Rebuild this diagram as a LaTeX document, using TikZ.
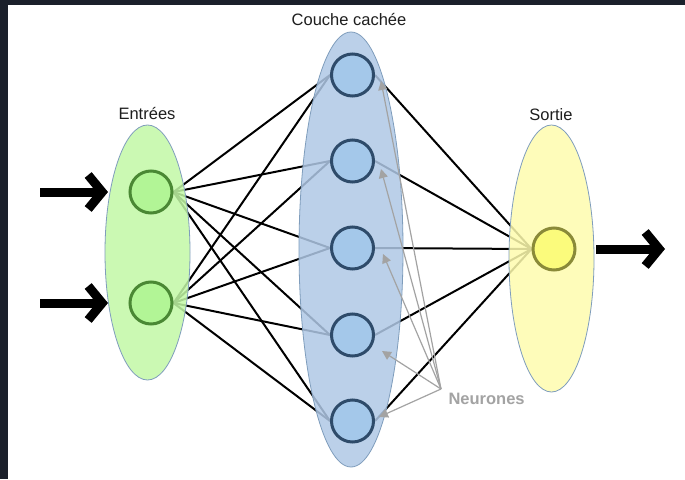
\documentclass[tikz,border=0pt]{standalone}
\usepackage{fontspec}
\setmainfont{Liberation Sans}
\usetikzlibrary{shapes.geometric,arrows.meta,calc}
\pgfdeclarelayer{back}
\pgfdeclarelayer{wires}
\pgfdeclarelayer{shells}
\pgfsetlayers{back,wires,shells,main}

\definecolor{frame}{HTML}{1B202B}
\definecolor{inshell}{HTML}{C2F8A6}
\definecolor{hidshell}{HTML}{B0C8E6}
\definecolor{outshell}{HTML}{FEFCAE}
\definecolor{shellrim}{HTML}{7F9DBC}
\definecolor{infill}{HTML}{B2F596}
\definecolor{inrim}{HTML}{4A8834}
\definecolor{hidfill}{HTML}{A4C8EA}
\definecolor{hidrim}{HTML}{2E4B6A}
\definecolor{outfill}{HTML}{FBFB7C}
\definecolor{outrim}{HTML}{8A8A38}
\definecolor{pointgray}{HTML}{A3A3A3}
\definecolor{captioncol}{HTML}{1E1E1E}

\tikzset{
  shell/.style={ellipse, draw=shellrim, line width=0.8pt, fill opacity=0.85, inner sep=0pt},
  neuron/.style={circle, minimum size=42pt, inner sep=0pt, line width=3pt},
  wire/.style={line width=2pt, black},
  bigarrow/.style={line width=9pt, black, -{Straight Barb[length=14pt, width=34pt]}},
  callout/.style={draw=pointgray, line width=1.2pt, -{Triangle[length=9pt, width=9pt, fill=pointgray]}},
  caption/.style={text=captioncol, font=\fontsize{16.5}{19}\selectfont},
}

\begin{document}
\begin{tikzpicture}[x=1pt, y=-1pt]
  \useasboundingbox (0,0) rectangle (685,479);
  \begin{pgfonlayer}{back}
    \fill[frame] (0,0) rectangle (685,479);
    \fill[white] (8,5) rectangle (685,479);
  \end{pgfonlayer}

  % layer shells
  \begin{pgfonlayer}{shells}
    \node[shell, fill=inshell, minimum width=85pt, minimum height=255pt] (inL) at (147.5,252.5) {};
    \node[shell, fill=hidshell, minimum width=104pt, minimum height=435pt] (hidL) at (351,249.5) {};
    \node[shell, fill=outshell, minimum width=85pt, minimum height=267pt] (outL) at (551.5,258.5) {};
  \end{pgfonlayer}

  % neurons
  \node[neuron, fill=infill, draw=inrim] (i1) at (151,192) {};
  \node[neuron, fill=infill, draw=inrim] (i2) at (151,303) {};
  \foreach \k/\y in {1/75, 2/161, 3/248, 4/335, 5/421}
    \node[neuron, fill=hidfill, draw=hidrim] (h\k) at (352.5,\y) {};
  \node[neuron, fill=outfill, draw=outrim] (o1) at (554,249) {};

  % weighted connections
  \begin{pgfonlayer}{wires}
    \foreach \i in {1,2}
      \foreach \k in {1,...,5}
        \draw[wire] (i\i.east) -- (h\k.west);
    \foreach \k in {1,...,5}
      \draw[wire] (h\k.east) -- (o1.west);
  \end{pgfonlayer}

  % layer captions
  \node[caption] (capIn) at (147,114) {Entrées};
  \node[caption] (capHid) at (349,20) {Couche cachée};
  \node[caption] (capOut) at (551,115) {Sortie};

  % neuron callout: arrows point just right of each hidden neuron
  \node[anchor=west, text=pointgray, font=\fontsize{16.5}{19}\selectfont\bfseries] (neur) at (445,399) {Neurones};
  \coordinate (nsrc) at (441,389);
  \coordinate (p1) at ($(h1.east)+(6,6)$);
  \coordinate (p2) at ($(h2.east)+(6,8)$);
  \coordinate (p3) at ($(h3.east)+(8,6)$);
  \coordinate (p4) at ($(h4.east)+(7,16)$);
  \coordinate (p5) at ($(h5.east)+(4,-4)$);
  \foreach \k in {1,...,5}
    \draw[callout] (nsrc) -- (p\k);

  % signal flow
  \coordinate (a1) at (40,192);
  \coordinate (t1) at (108,192);
  \coordinate (a2) at (40,303);
  \coordinate (t2) at (108,303);
  \coordinate (a3) at (596,249);
  \coordinate (t3) at (665,249);
  \draw[bigarrow] (a1) -- (t1);
  \draw[bigarrow] (a2) -- (t2);
  \draw[bigarrow] (a3) -- (t3);
\end{tikzpicture}
\end{document}
